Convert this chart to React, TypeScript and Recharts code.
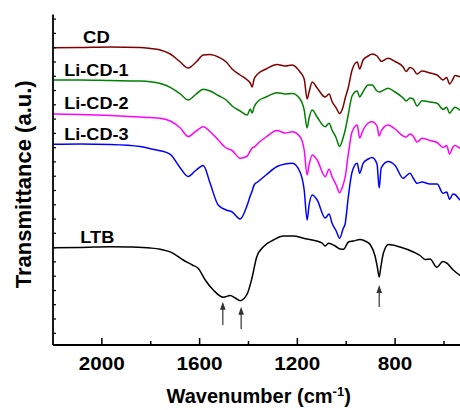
import React from "react";
import { LineChart, Line, XAxis, YAxis, ReferenceLine, ReferenceDot } from "recharts";

// FTIR spectra, transmittance in arbitrary units (curves stacked)
const wavenumber = [
  2199, 2088, 1966, 1843, 1802, 1761, 1720, 1679, 1647, 1614, 1585, 1557, 1524, 1491, 1467, 1434,
  1405, 1393, 1385, 1377, 1360, 1328, 1283, 1250, 1221, 1189, 1172, 1160, 1152, 1139, 1119, 1086,
  1070, 1058, 1041, 1027, 1013, 1004, 992, 976, 955, 945, 931, 910, 894, 874, 865, 857, 829, 800,
  767, 755, 739, 726, 710, 690, 657, 628, 604, 589, 577, 563, 555, 534, 510,
];
const cd = [
  297.3, 297.5, 298, 297.5, 296.5, 295, 291, 283, 277, 283, 290, 290.5, 288, 283, 276, 270,
  265, 262, 258, 266, 271.5, 276, 280.5, 279, 280, 273, 266, 246, 253, 263, 257, 248,
  251, 243.5, 237, 231.5, 238, 247, 257, 275, 283, 276, 285, 289, 291, 289, 286, 283.5, 286.7, 283.5,
  278, 273.5, 277.5, 276, 271, 274, 272, 270, 265, 267.5, 261, 266, 269.5, 268.3, 267,
];
const liCd1 = [
  265, 265, 264.5, 264, 263.3, 261.5, 257.7, 251, 245, 251, 255.7, 254, 249.5, 245, 239, 234,
  230, 236, 232, 238, 244, 248, 252.3, 251, 251.5, 246, 235, 217, 227, 235, 228, 218.3,
  221.7, 215, 207, 198.5, 207, 215, 230, 249, 254, 248, 253.3, 260, 260, 254, 253, 253.5, 256.7, 253,
  247, 244, 247, 246, 239, 244.3, 243, 241.7, 235.7, 237.7, 231.7, 236, 237.7, 235, 234,
];
const liCd2 = [
  231, 230.5, 229.5, 228, 227.5, 226.7, 224, 217, 208.5, 214, 218.3, 213.3, 205, 197, 194.5, 186.7,
  189, 194, 197, 198, 202, 208, 214.5, 212, 213.3, 208.3, 195, 170, 180, 190, 185, 168.3,
  175.7, 168.3, 160, 152.3, 160, 168.3, 190, 213.3, 220, 207, 215, 222, 223.3, 219, 209, 214, 220, 216,
  209, 208, 211, 209, 203, 206.7, 204.5, 202.5, 197.5, 199.5, 191, 198, 199.5, 196.7, 195,
];
const liCd3 = [
  200.7, 201, 200.5, 198.5, 196.3, 194.3, 190.7, 177, 168.5, 175, 179.5, 161.7, 140, 135, 133, 126,
  140, 149, 154, 160, 163.5, 170, 178.5, 181, 181.7, 173, 155, 125, 140, 150, 145, 127,
  131, 121.7, 114, 106.7, 116, 121.7, 147, 173, 181.7, 171.7, 181.7, 186, 187.5, 181, 157, 177, 183.5, 179.5,
  166.7, 169, 171.7, 167, 161.7, 163, 161, 161, 151.7, 153, 145.7, 151, 150.5, 145, 142,
];
const ltbWavenumber = [
  2199, 2088, 1966, 1884, 1802, 1761, 1708, 1667, 1630, 1606, 1577, 1544, 1503, 1475, 1454, 1434,
  1418, 1404, 1386, 1366, 1339, 1298, 1257, 1216, 1175, 1120, 1099, 1086, 1073, 1045, 1025, 1011,
  991, 971, 943, 919, 902, 882, 872, 865, 859, 848, 827, 780, 725, 698, 677, 657, 629, 605, 589,
  562, 534, 510,
];
const ltb = [
  97.3, 97.5, 98.3, 98, 97, 95.7, 91.7, 85, 80, 76.7, 65, 55, 47.8, 49.5, 47, 44.3,
  46.5, 51.7, 66.7, 88.3, 98.3, 105, 109, 109, 106.7, 104, 102, 99, 101.7, 99, 96, 95.7,
  103, 104, 105.5, 103.5, 100.5, 89, 77, 68, 77, 91.7, 100.5, 98, 93, 89.5, 85.5, 86, 77.7, 83.5, 82,
  75, 69.5, 66,
];

const majorTicks = [2000, 1600, 1200, 800];
const xTicks = [2000, 1800, 1600, 1400, 1200, 1000, 800, 600];
const yTicks = [
  11.7, 26.0, 40.3, 54.5, 68.8, 83.1, 97.4, 111.7, 125.9, 140.2, 154.5, 168.8, 183.1, 197.3,
  211.6, 225.9, 240.2, 254.5, 268.7, 283.0, 297.3, 311.6, 325.9,
];

const labelText = ["CD", "Li-CD-1", "Li-CD-2", "Li-CD-3", "LTB"];
const labelWn = [2077, 2154, 2154, 2154, 2088];
const labelT = [302, 268.7, 236, 204.7, 102.3];
const labelWidth = [26.7, 64.3, 64.3, 64.3, 34];

const arrowWn = [1505, 1430, 865];
const arrowFrom = [20, 16, 38];
const arrowTo = [43.3, 38.3, 60];

const rows = wavenumber.map((wn, i) => ({
  wn,
  cd: cd[i],
  li1: liCd1[i],
  li2: liCd2[i],
  li3: liCd3[i],
}));
const ltbRows = ltbWavenumber.map((wn, i) => ({ wn, ltb: ltb[i] }));

const FONT = '"Liberation Sans", Arial, Helvetica, sans-serif';

function BottomTick({ x, y, payload }: any) {
  const major = majorTicks.includes(payload.value);
  const txt = String(payload.value);
  return (
    <g>
      <line x1={x} x2={x} y1={y} y2={y - (major ? 7 : 4)} stroke="#000" strokeWidth={1.5} />
      {major && (
        <text
          x={x}
          y={y + 25}
          textAnchor="middle"
          fontFamily={FONT}
          fontWeight="bold"
          fontSize={19}
          textLength={txt.length * 11.5}
          lengthAdjust="spacingAndGlyphs"
          fill="#000"
        >
          {txt}
        </text>
      )}
    </g>
  );
}

function TopTick({ x, y, payload }: any) {
  const major = majorTicks.includes(payload.value);
  return <line x1={x} x2={x} y1={y} y2={y + (major ? 7 : 4)} stroke="#000" strokeWidth={1.5} />;
}

function LeftTick({ x, y }: any) {
  return <line x1={x} x2={x + 3} y1={y} y2={y} stroke="#000" strokeWidth={1.2} />;
}

function Arrow(props: any) {
  const { x1, y1, x2, y2 } = props;
  return (
    <g>
      <line x1={x1} y1={y1} x2={x2} y2={y2 + 6} stroke="#333" strokeWidth={1.2} />
      <polygon points={`${x2},${y2} ${x2 - 2.8},${y2 + 8} ${x2 + 2.8},${y2 + 8}`} fill="#333" />
    </g>
  );
}

export default function App() {
  return (
    <div
      style={{
        position: "absolute",
        left: 0,
        top: 0,
        width: 460,
        height: 410,
        overflow: "hidden",
        background: "#fff",
      }}
    >
      <LineChart
        width={480}
        height={410}
        data={rows}
        margin={{ top: 14.5, right: 11.6, bottom: 0, left: 0 }}
      >
        <XAxis
          type="number"
          dataKey="wn"
          domain={[500, 2200]}
          reversed
          allowDataOverflow
          ticks={xTicks}
          interval={0}
          height={65}
          tickSize={0}
          tickMargin={0}
          tickLine={false}
          tick={BottomTick}
          axisLine={{ stroke: "#000", strokeWidth: 1.8 }}
          label={{
            content: ({ viewBox }: any) => (
              <text
                x={viewBox.x + viewBox.width / 2 - 2}
                y={viewBox.y + 58}
                textAnchor="middle"
                fontFamily={FONT}
                fontWeight="bold"
                fontSize={20}
                fill="#000"
              >
                <tspan>Wavenumber (cm</tspan>
                <tspan dy={-7} fontSize={13}>-1</tspan>
                <tspan dy={7}>)</tspan>
              </text>
            ),
          }}
        />
        <XAxis
          xAxisId="top"
          orientation="top"
          type="number"
          dataKey="wn"
          domain={[500, 2200]}
          reversed
          allowDataOverflow
          ticks={xTicks}
          interval={0}
          height={0}
          tickSize={0}
          tickMargin={0}
          tickLine={false}
          tick={TopTick}
          axisLine={{ stroke: "#000", strokeWidth: 1.8 }}
        />
        <YAxis
          type="number"
          domain={[0, 330.5]}
          allowDataOverflow
          ticks={yTicks}
          interval={0}
          width={53}
          tickSize={0}
          tickMargin={0}
          tickLine={false}
          tick={LeftTick}
          axisLine={{ stroke: "#000", strokeWidth: 1.8 }}
          label={{
            content: ({ viewBox }: any) => {
              const cy = viewBox.y + viewBox.height / 2 + 4.5;
              return (
                <text
                  x={31}
                  y={cy}
                  transform={`rotate(-90, 31, ${cy})`}
                  textAnchor="middle"
                  fontFamily={FONT}
                  fontWeight="bold"
                  fontSize={22}
                  fill="#000"
                >
                  Transmittance (a.u.)
                </text>
              );
            },
          }}
        />
        <Line type="monotone" dataKey="cd" stroke="#800000" strokeWidth={1.5} dot={false} activeDot={false} isAnimationActive={false} />
        <Line type="monotone" dataKey="li1" stroke="#008000" strokeWidth={1.5} dot={false} activeDot={false} isAnimationActive={false} />
        <Line type="monotone" dataKey="li2" stroke="#ff00ff" strokeWidth={1.5} dot={false} activeDot={false} isAnimationActive={false} />
        <Line type="monotone" dataKey="li3" stroke="#0000ff" strokeWidth={1.5} dot={false} activeDot={false} isAnimationActive={false} />
        <Line data={ltbRows} type="monotone" dataKey="ltb" stroke="#000" strokeWidth={1.5} dot={false} activeDot={false} isAnimationActive={false} />
        {arrowWn.map((wn, i) => (
          <ReferenceLine
            key={"a" + i}
            segment={[
              { x: wn, y: arrowFrom[i] },
              { x: wn, y: arrowTo[i] },
            ]}
            stroke="#333"
            shape={Arrow}
          />
        ))}
        {labelText.map((txt, i) => (
          <ReferenceDot
            key={"l" + i}
            x={labelWn[i]}
            y={labelT[i]}
            r={0}
            fill="none"
            stroke="none"
            label={{
              content: ({ viewBox }: any) => (
                <text
                  x={viewBox.x}
                  y={viewBox.y}
                  fontFamily={FONT}
                  fontWeight="bold"
                  fontSize={16.5}
                  textLength={labelWidth[i]}
                  lengthAdjust="spacingAndGlyphs"
                  fill="#000"
                >
                  {txt}
                </text>
              ),
            }}
          />
        ))}
      </LineChart>
    </div>
  );
}
